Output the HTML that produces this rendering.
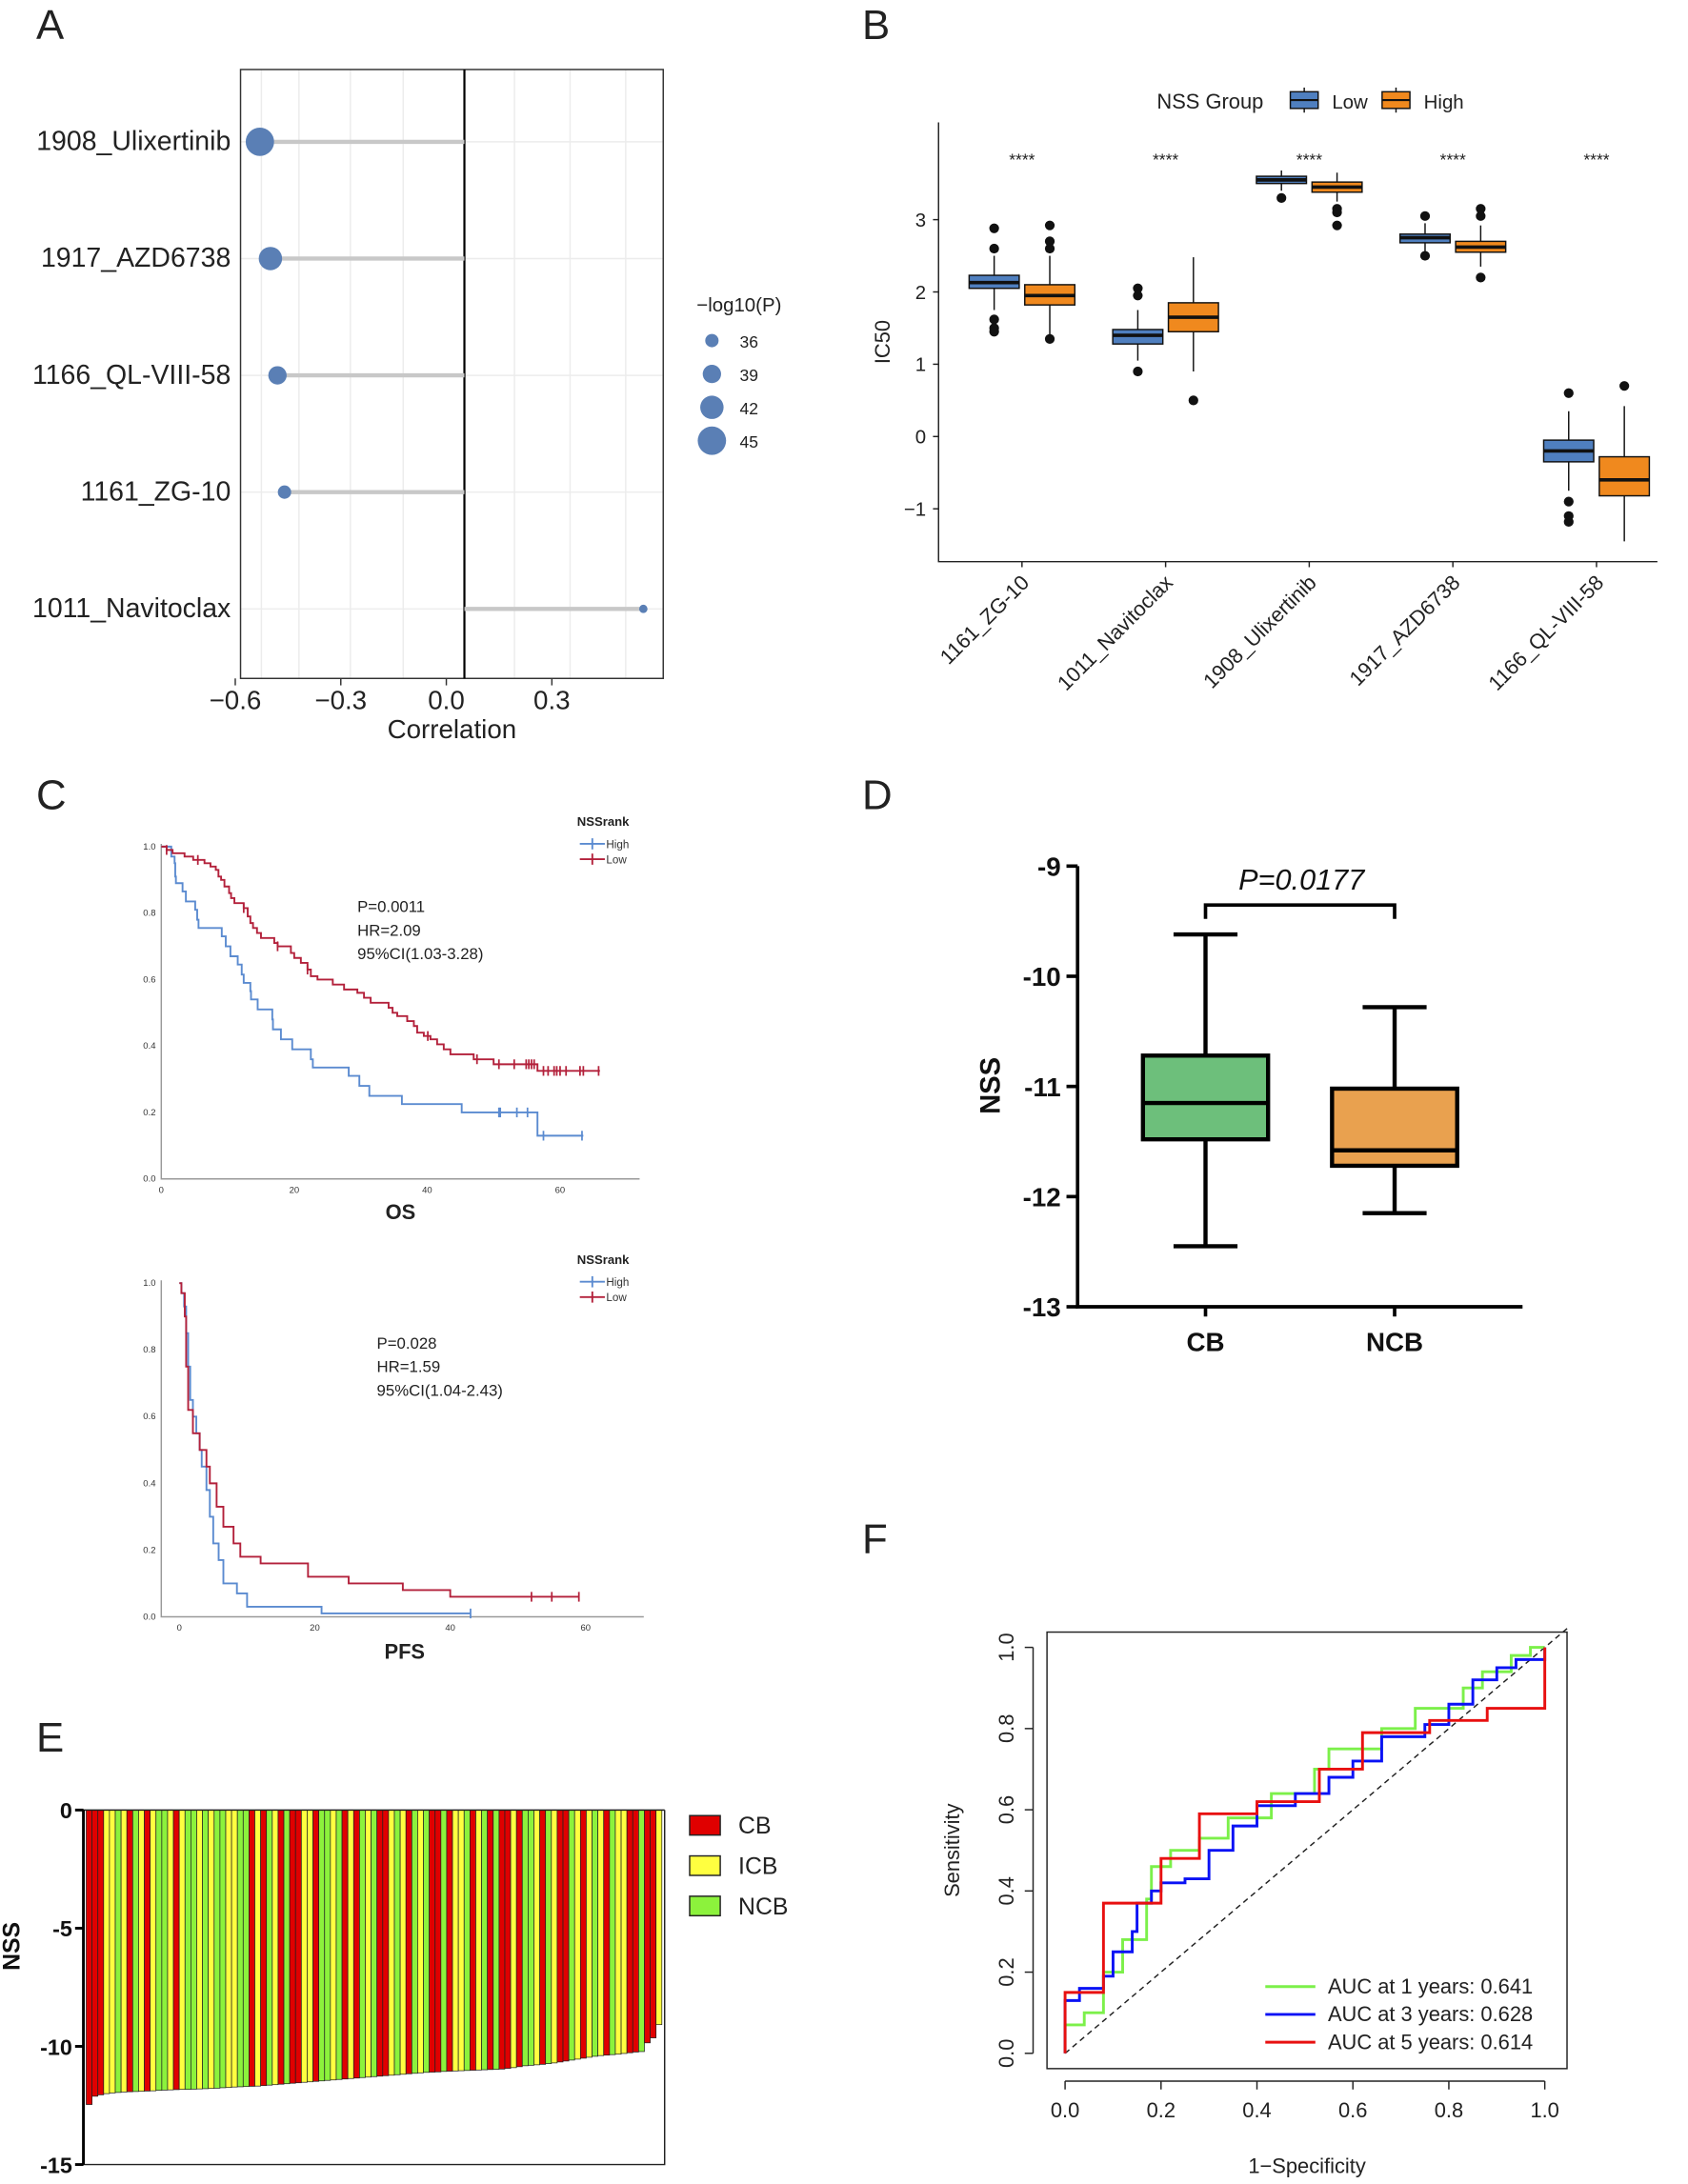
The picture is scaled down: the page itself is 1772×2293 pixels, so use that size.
<!DOCTYPE html>
<html><head><meta charset="utf-8">
<style>
html,body{margin:0;padding:0;background:#fff;}
svg{display:block;font-family:"Liberation Sans",Arial,sans-serif;}
</style></head>
<body>
<svg id="fig" width="1772" height="2293" viewBox="0 0 1214 1571" preserveAspectRatio="none" xmlns="http://www.w3.org/2000/svg">
<rect width="1214" height="1571" fill="#fff"/>
<g font-size="30" fill="#222">
<text x="26" y="28">A</text>
<text x="620" y="28">B</text>
<text x="26" y="582">C</text>
<text x="620" y="582">D</text>
<text x="26" y="1260">E</text>
<text x="620" y="1117">F</text>
</g>
<g id="gA"></g>
<g id="gB"></g>
<g id="gC"></g>
<g id="gD"></g>
<g id="gE"></g>
<g id="gF"></g>
</svg>
<script>
// ---------- Panel A data ----------
const aDrugs=["1908_Ulixertinib","1917_AZD6738","1166_QL-VIII-58","1161_ZG-10","1011_Navitoclax"];
const aCorr=[-0.53,-0.5,-0.48,-0.46,0.56];
const aLogP=[45,42,39,36,33];
const aTicks=[-0.6,-0.3,0.0,0.3];
const aLegend=[36,39,42,45];
// ---------- Panel B data ----------
const bDrugs=["1161_ZG-10","1011_Navitoclax","1908_Ulixertinib","1917_AZD6738","1166_QL-VIII-58"];
const bLow=[[1.75,2.05,2.13,2.23,2.5],[1.05,1.28,1.4,1.48,1.75],[3.4,3.5,3.55,3.6,3.68],[2.55,2.68,2.75,2.8,2.95],[-0.75,-0.35,-0.2,-0.05,0.35]];
const bHigh=[[1.4,1.82,1.95,2.1,2.5],[0.9,1.45,1.65,1.85,2.48],[3.25,3.38,3.45,3.52,3.65],[2.35,2.55,2.62,2.7,2.92],[-1.45,-0.82,-0.6,-0.28,0.42]];
const bLowOut=[[2.88,2.6,1.62,1.5,1.45],[2.05,1.95,0.9],[3.3],[3.05,2.5],[0.6,-0.9,-1.1,-1.18]];
const bHighOut=[[2.92,2.7,2.6,1.35],[0.5],[3.1,3.15,2.92],[3.15,3.05,2.2],[0.7]];
const bTicks=[3,2,1,0,-1];
// ---------- Panel C data ----------
const osHighT=[1.5,2,2.1,2.2,3.2,3.7,5.1,5.4,5.6,9.1,9.7,10.4,11.5,12.1,12.4,13.4,13.5,14.5,16.7,16.8,18,19.7,22.5,22.8,28.2,29.8,31.3,36.2,45.2,56.6];
const osHighS=[0.97,0.95,0.91,0.89,0.865,0.835,0.81,0.78,0.755,0.73,0.70,0.67,0.645,0.615,0.59,0.565,0.54,0.51,0.48,0.45,0.42,0.39,0.36,0.335,0.31,0.28,0.25,0.225,0.2,0.13];
const osHighEnd=63.5;
const osHighCens=[50.8,51,53.5,55.1,57.5,63.3];
const osLowT=[0.8,1.7,3.5,4.8,6.5,7.4,8.2,8.6,9,9.5,10.2,10.5,11,12.4,13,13.4,13.8,14.4,15,17,17.5,19.5,20,21,22,22.5,23.5,25.8,27.5,29.5,30.5,31.5,34.2,34.8,35.5,37,38,38.5,39.5,40.5,41.5,42.5,43.5,47,50,56.6];
const osLowS=[0.99,0.98,0.97,0.96,0.95,0.94,0.93,0.91,0.9,0.88,0.86,0.845,0.83,0.815,0.79,0.77,0.755,0.74,0.725,0.71,0.7,0.68,0.665,0.65,0.63,0.61,0.6,0.585,0.57,0.56,0.545,0.53,0.515,0.5,0.49,0.475,0.46,0.44,0.43,0.42,0.405,0.39,0.375,0.36,0.345,0.325];
const osLowEnd=66;
const osLowCens=[0.8,5.5,12.4,17.5,22,40.1,47.5,50.8,53.1,54.9,55.3,55.7,56.1,57.5,58.2,59.1,59.5,60,60.9,63,63.5,65.8];
const pfsHighT=[0.3,0.7,1,1.3,1.6,2,2.5,3,3.3,4,4.5,5,5.8,6.5,8.5,10,21];
const pfsHighS=[0.97,0.93,0.85,0.75,0.65,0.6,0.55,0.5,0.45,0.38,0.3,0.22,0.17,0.1,0.07,0.03,0.01];
const pfsHighEnd=43;
const pfsHighCens=[43];
const pfsLowT=[0.3,0.8,1,1.3,2,3,4,4.5,5.5,6.5,8,9,12,19,25,33,40];
const pfsLowS=[0.97,0.9,0.75,0.62,0.55,0.5,0.45,0.4,0.33,0.27,0.22,0.18,0.16,0.12,0.1,0.08,0.06];
const pfsLowEnd=59;
const pfsLowCens=[52,55,59];
const kmYTicks=[0,0.2,0.4,0.6,0.8,1.0];
const osXTicks=[0,20,40,60];
const pfsXTicks=[0,20,40,60];
// ---------- Panel D data ----------
const dGroups=["CB","NCB"];
const dStats=[[-12.45,-11.48,-11.15,-10.72,-9.62],[-12.15,-11.72,-11.58,-11.02,-10.28]];
const dTicks=[-9,-10,-11,-12,-13];
// ---------- Panel E data ----------
const eValues=[-12.46,-12.11,-12.05,-12.0,-11.97,-11.95,-11.93,-11.92,-11.91,-11.9,-11.89,-11.88,-11.86,-11.85,-11.84,-11.83,-11.82,-11.82,-11.81,-11.8,-11.79,-11.78,-11.77,-11.75,-11.74,-11.72,-11.71,-11.7,-11.69,-11.68,-11.66,-11.64,-11.62,-11.6,-11.58,-11.56,-11.54,-11.52,-11.5,-11.48,-11.46,-11.44,-11.42,-11.4,-11.38,-11.36,-11.34,-11.32,-11.3,-11.28,-11.26,-11.24,-11.22,-11.2,-11.18,-11.16,-11.14,-11.12,-11.1,-11.09,-11.08,-11.06,-11.05,-11.04,-11.03,-11.02,-11.01,-11.0,-10.99,-10.98,-10.97,-10.96,-10.93,-10.9,-10.86,-10.82,-10.8,-10.78,-10.76,-10.73,-10.7,-10.66,-10.62,-10.58,-10.54,-10.5,-10.46,-10.42,-10.39,-10.37,-10.35,-10.33,-10.3,-10.27,-10.24,-10.22,-9.85,-9.64,-9.08];
const eClass="RRRYYGYRGYRYGGYRYGGYGYGGYYGGRYRGYRGRRYYRGGYGRYRGYGRRYGYRGYGRRGRYYGRYGRGRRYRGGYRGYRRGYRYGYRGYYRRGRRY".split("");
const eTicks=[0,-5,-10,-15];
const eLegend=["CB","ICB","NCB"];
// ---------- Panel F data ----------
const rocTicks=[0,0.2,0.4,0.6,0.8,1.0];
const roc1F=[0,0,0.04,0.04,0.08,0.08,0.12,0.12,0.17,0.17,0.18,0.22,0.22,0.28,0.28,0.34,0.34,0.4,0.43,0.52,0.55,0.66,0.73,0.83,0.87,0.93,0.97,1];
const roc1T=[0,0.07,0.07,0.1,0.1,0.2,0.2,0.28,0.28,0.38,0.46,0.46,0.5,0.5,0.53,0.53,0.58,0.58,0.64,0.7,0.75,0.8,0.85,0.9,0.94,0.98,1,1];
const roc3F=[0,0,0.03,0.08,0.1,0.14,0.15,0.18,0.2,0.25,0.3,0.35,0.4,0.48,0.55,0.6,0.66,0.75,0.8,0.85,0.9,0.94,1,1];
const roc3T=[0,0.13,0.16,0.19,0.25,0.3,0.37,0.4,0.42,0.43,0.5,0.56,0.61,0.64,0.68,0.72,0.78,0.81,0.86,0.92,0.95,0.97,0.98,1];
const roc5F=[0,0,0.08,0.08,0.2,0.2,0.28,0.28,0.4,0.4,0.53,0.53,0.62,0.62,0.76,0.76,0.88,0.88,1,1];
const roc5T=[0,0.15,0.15,0.37,0.37,0.48,0.48,0.59,0.59,0.62,0.62,0.70,0.70,0.79,0.79,0.82,0.82,0.85,0.85,1];
const rocLabels=["AUC at 1 years: 0.641","AUC at 3 years: 0.628","AUC at 5 years: 0.614"];

const NS="http://www.w3.org/2000/svg";
function mk(parent,tag,attrs,text){const e=document.createElementNS(NS,tag);for(const k in attrs)e.setAttribute(k,attrs[k]);if(text!==undefined)e.textContent=text;parent.appendChild(e);return e;}

// ===== Panel A =====
(function(){
const g=document.getElementById('gA');
const L=173,R=477,T=50,B=488;
const xA=v=>321+v*253;
const zeroX=334;
[188,215,252,290,370,410,450].forEach(x=>{const l=mk(g,'line',{x1:x,x2:x,y1:T,y2:B,stroke:'#ececec','stroke-width':1});});
aDrugs.forEach((d,i)=>{const y=102+i*84;const l=mk(g,'line',{x1:L,x2:R,y1:y,y2:y,stroke:'#ececec','stroke-width':1});});
const fr=mk(g,'rect',{x:L,y:T,width:R-L,height:B-T,fill:'none',stroke:'#333','stroke-width':1});

const zl=mk(g,'line',{x1:zeroX,x2:zeroX,y1:T,y2:B,stroke:'#000','stroke-width':1.5});

const rS=p=>3+(p-33)*0.6;
aDrugs.forEach((d,i)=>{
 const y=102+i*84,x=xA(aCorr[i]);
 const s=mk(g,'line',{x1:x,x2:zeroX,y1:y,y2:y,stroke:'#c8c8c8','stroke-width':3});
 
 const c=mk(g,'circle',{cx:x,cy:y,r:rS(aLogP[i]),fill:'#5a7fb5'});
 
 const t=mk(g,'text',{x:166,y:y+6,'text-anchor':'end','font-size':19.5,fill:'#222'},d);
 
});
aTicks.forEach(v=>{const x=xA(v);
 const tk=mk(g,'line',{x1:x,x2:x,y1:B,y2:B+5,stroke:'#333'});
 const t=mk(g,'text',{x:x,y:B+22,'text-anchor':'middle','font-size':19,fill:'#222'},(v<0?'\u2212':'')+Math.abs(v).toFixed(1));
 });
const xt=mk(g,'text',{x:325,y:531,'text-anchor':'middle','font-size':19,fill:'#222'},'Correlation');

const lt=mk(g,'text',{x:501,y:224,'font-size':14,fill:'#222'},'\u2212log10(P)');

aLegend.forEach((p,i)=>{const y=245+i*24;
 const c=mk(g,'circle',{cx:512,cy:y,r:rS(p),fill:'#5a7fb5'});
 const t=mk(g,'text',{x:532,y:y+5,'font-size':12,fill:'#222'},p);});
})();

// ===== Panel B =====
(function(){
const g=document.getElementById('gB');
const L=675,R=1192,T=88,B=404;
const yB=v=>314-52*v;
const ax=mk(g,'path',{d:`M${L},${T} V${B} H${R}`,fill:'none',stroke:'#222','stroke-width':1});

bTicks.forEach(v=>{const y=yB(v);
 const tk=mk(g,'line',{x1:L-4,x2:L,y1:y,y2:y,stroke:'#222'});
 const t=mk(g,'text',{x:L-9,y:y+5,'text-anchor':'end','font-size':14,fill:'#222'},v<0?'\u2212'+Math.abs(v):v);});
const yl=mk(g,'text',{x:0,y:0,'font-size':15,fill:'#222','text-anchor':'middle',transform:'translate(640,246) rotate(-90)'},'IC50');

function box(cx,st,out,col){
 const w=36;
 const wl=mk(g,'line',{x1:cx,x2:cx,y1:yB(st[0]),y2:yB(st[4]),stroke:'#111','stroke-width':1});
 const r=mk(g,'rect',{x:cx-w/2,y:yB(st[3]),width:w,height:yB(st[1])-yB(st[3]),fill:col,stroke:'#111','stroke-width':1});
 const m=mk(g,'line',{x1:cx-w/2,x2:cx+w/2,y1:yB(st[2]),y2:yB(st[2]),stroke:'#111','stroke-width':2.5});
 out.forEach(o=>{const c=mk(g,'circle',{cx:cx,cy:yB(o),r:3.5,fill:'#111'});});
}
bDrugs.forEach((d,i)=>{const cx=735+i*103.3;
 box(cx-20,bLow[i],bLowOut[i],'#4f7fbf');box(cx+20,bHigh[i],bHighOut[i],'#f0891e');
 const tk=mk(g,'line',{x1:cx,x2:cx,y1:B,y2:B+4,stroke:'#222'});
 const s=mk(g,'text',{x:cx,y:119,'text-anchor':'middle','font-size':12,fill:'#222'},'****');
 const t=mk(g,'text',{x:0,y:0,'text-anchor':'end','font-size':15,fill:'#222',transform:`translate(${cx+6},${B+16}) rotate(-45)`},d);});
const lgT=mk(g,'text',{x:832,y:78,'font-size':15,fill:'#222'},'NSS Group');
[['Low','#4f7fbf',928],['High','#f0891e',994]].forEach(([n,c,x])=>{
 const l=mk(g,'line',{x1:x+10,x2:x+10,y1:63,y2:81,stroke:'#111'});
 const r=mk(g,'rect',{x:x,y:66,width:20,height:12,fill:c,stroke:'#111'});
 const m=mk(g,'line',{x1:x,x2:x+20,y1:72,y2:72,stroke:'#111','stroke-width':1.5});
 const t=mk(g,'text',{x:x+30,y:78,'font-size':14,fill:'#222'},n);});
})();

// ===== Panel C =====
function kmPlot(g,o){
 const {L,R,T,B,x0,xs}=o;
 const X=t=>x0+t*xs, Y=s=>B-(B-T)*s;
 const ax=mk(g,'path',{d:`M${L},${T-2} V${B} H${R}`,fill:'none',stroke:'#999','stroke-width':1});
 kmYTicks.forEach(v=>{const t=mk(g,'text',{x:L-4,y:Y(v)+2,'text-anchor':'end','font-size':6.5,fill:'#333'},v.toFixed(1));});
 o.xticks.forEach(v=>{const t=mk(g,'text',{x:X(v),y:B+10,'text-anchor':'middle','font-size':6.5,fill:'#333'},v);});
 function curve(T_,S_,end,cens,col,name){
  let d=`M${X(0)},${Y(1)}`;T_.forEach((t,i)=>{d+=` H${X(t)} V${Y(S_[i])}`;});d+=` H${X(end)}`;
  const p=mk(g,'path',{d:d,fill:'none',stroke:col,'stroke-width':1.3});
  cens.forEach(c=>{let s=1;T_.forEach((t,i)=>{if(t<=c)s=S_[i];});
   const m=mk(g,'line',{x1:X(c),x2:X(c),y1:Y(s)-3.5,y2:Y(s)+3.5,stroke:col,'stroke-width':1.2});});
 }
 curve(o.hT,o.hS,o.hE,o.hC,'#5b8bd0','km-high-curve');
 curve(o.lT,o.lS,o.lE,o.lC,'#b3213b','km-low-curve');
 const lt=mk(g,'text',{x:o.lgx,y:o.lgy,'font-size':9,'font-weight':'bold',fill:'#222'},'NSSrank');
 [['High','#5b8bd0'],['Low','#b3213b']].forEach(([n,c],i)=>{const y=o.lgy+13+i*11;
  const l=mk(g,'line',{x1:o.lgx+2,x2:o.lgx+20,y1:y,y2:y,stroke:c,'stroke-width':1.3});
  const v=mk(g,'line',{x1:o.lgx+11,x2:o.lgx+11,y1:y-4,y2:y+4,stroke:c,'stroke-width':1.3});
  const t=mk(g,'text',{x:o.lgx+21,y:y+3,'font-size':8,fill:'#333'},n);});
 o.stats.forEach((s,i)=>{const t=mk(g,'text',{x:o.sx,y:o.sy+i*17,'font-size':11.5,fill:'#222'},s);});
 const xt=mk(g,'text',{x:o.tx,y:o.ty,'text-anchor':'middle','font-size':15,'font-weight':'bold',fill:'#222'},o.title);
}
(function(){
const g=document.getElementById('gC');
const g1=mk(g,'g',{});
kmPlot(g1,{L:116,R:460,T:609,B:848,x0:116,xs:4.78,xticks:osXTicks,hT:osHighT,hS:osHighS,hE:osHighEnd,hC:osHighCens,lT:osLowT,lS:osLowS,lE:osLowEnd,lC:osLowCens,lgx:415,lgy:594,stats:['P=0.0011','HR=2.09','95%CI(1.03-3.28)'],sx:257,sy:656,title:'OS',tx:288,ty:877});
const g2=mk(g,'g',{});
kmPlot(g2,{L:116,R:463,T:923,B:1163,x0:129,xs:4.87,xticks:pfsXTicks,hT:pfsHighT,hS:pfsHighS,hE:pfsHighEnd,hC:pfsHighCens,lT:pfsLowT,lS:pfsLowS,lE:pfsLowEnd,lC:pfsLowCens,lgx:415,lgy:909,stats:['P=0.028','HR=1.59','95%CI(1.04-2.43)'],sx:271,sy:970,title:'PFS',tx:291,ty:1193});
})();

// ===== Panel D =====
(function(){
const g=document.getElementById('gD');
const L=775,R=1095,B=940;
const yD=v=>623+(-9-v)*79.25;
const ax=mk(g,'path',{d:`M${L},${yD(-9)} V${B} H${R}`,fill:'none',stroke:'#000','stroke-width':2.5});
dTicks.forEach(v=>{const y=yD(v);
 const tk=mk(g,'line',{x1:L-8,x2:L,y1:y,y2:y,stroke:'#000','stroke-width':2.5});
 const t=mk(g,'text',{x:L-12,y:y+7,'text-anchor':'end','font-size':19,'font-weight':'bold',fill:'#111'},v);});
const yl=mk(g,'text',{x:0,y:0,'text-anchor':'middle','font-size':20,'font-weight':'bold',fill:'#111',transform:'translate(719,781) rotate(-90)'},'NSS');
const cols=['#6dbf7b','#e9a14f'];
dGroups.forEach((n,i)=>{const cx=867+i*136,w=90,st=dStats[i];
 const wl=mk(g,'line',{x1:cx,x2:cx,y1:yD(st[0]),y2:yD(st[4]),stroke:'#000','stroke-width':3});
 [st[0],st[4]].forEach(v=>{const c=mk(g,'line',{x1:cx-23,x2:cx+23,y1:yD(v),y2:yD(v),stroke:'#000','stroke-width':3});});
 const r=mk(g,'rect',{x:cx-w/2,y:yD(st[3]),width:w,height:yD(st[1])-yD(st[3]),fill:cols[i],stroke:'#000','stroke-width':3});
 const m=mk(g,'line',{x1:cx-w/2,x2:cx+w/2,y1:yD(st[2]),y2:yD(st[2]),stroke:'#000','stroke-width':3});
 const tk=mk(g,'line',{x1:cx,x2:cx,y1:B,y2:B+7,stroke:'#000','stroke-width':2.5});
 const t=mk(g,'text',{x:cx,y:972,'text-anchor':'middle','font-size':19,'font-weight':'bold',fill:'#111'},n);});
const br=mk(g,'path',{d:'M867,661 V651 H1003 V661',fill:'none',stroke:'#000','stroke-width':2.5});
const pt=mk(g,'text',{x:936,y:640,'text-anchor':'middle','font-size':21,'font-style':'italic',fill:'#111'},'P=0.0177');
})();

// ===== Panel E =====
(function(){
const g=document.getElementById('gE');
const L=60,R=478,T=1302;
const yE=v=>T-v*17;
const colMap={R:'#e00000',Y:'#ffff40',G:'#8cf23c'};
const bw=(R-L-4)/eValues.length;
eValues.forEach((v,i)=>{const r=mk(g,'rect',{x:L+2+i*bw,y:T,width:bw,height:yE(v)-T,fill:colMap[eClass[i]||'Y'],stroke:'#222','stroke-width':0.5});
 });
const ax=mk(g,'path',{d:`M${R},${T} H${L} V${yE(-15)} H${R} V${T}`,fill:'none',stroke:'#222','stroke-width':1});
const ax2=mk(g,'line',{x1:L,x2:L,y1:T,y2:yE(-15),stroke:'#000','stroke-width':2});
eTicks.forEach(v=>{const y=yE(v);
 const tk=mk(g,'line',{x1:L-6,x2:L,y1:y,y2:y,stroke:'#000','stroke-width':2});
 const t=mk(g,'text',{x:L-8,y:y+6,'text-anchor':'end','font-size':16,'font-weight':'bold',fill:'#111'},v);});
const yl=mk(g,'text',{x:0,y:0,'text-anchor':'middle','font-size':17,'font-weight':'bold',fill:'#111',transform:'translate(14,1400) rotate(-90)'},'NSS');
eLegend.forEach((n,i)=>{const y=1306+i*29;
 const r=mk(g,'rect',{x:496,y:y,width:22,height:14,fill:colMap['RYG'[i]],stroke:'#222','stroke-width':1});
 const t=mk(g,'text',{x:531,y:y+13,'font-size':17,fill:'#222'},n);});
})();

// ===== Panel F =====
(function(){
const g=document.getElementById('gF');
const X=v=>766+v*345, Y=v=>1477-v*292;
const fr=mk(g,'rect',{x:753,y:1174,width:374,height:314,fill:'none',stroke:'#222','stroke-width':1});
const xa=mk(g,'line',{x1:X(0),x2:X(1),y1:1497,y2:1497,stroke:'#222'});
const ya=mk(g,'line',{x1:743,x2:743,y1:Y(0),y2:Y(1),stroke:'#222'});
rocTicks.forEach(v=>{
 const tx=mk(g,'line',{x1:X(v),x2:X(v),y1:1497,y2:1503,stroke:'#222'});
 const t=mk(g,'text',{x:X(v),y:1523,'text-anchor':'middle','font-size':15,fill:'#222'},v.toFixed(1));
 const ty=mk(g,'line',{x1:737,x2:743,y1:Y(v),y2:Y(v),stroke:'#222'});
 const t2=mk(g,'text',{x:0,y:0,'text-anchor':'middle','font-size':15,fill:'#222',transform:`translate(729,${Y(v)}) rotate(-90)`},v.toFixed(1));});
const dg=mk(g,'line',{x1:X(0),y1:Y(0),x2:X(1.05),y2:Y(1.05),stroke:'#222','stroke-dasharray':'4,3'});
function roc(F,T_,col,name){let d=`M${X(F[0])},${Y(T_[0])}`;for(let i=1;i<F.length;i++){d+=` H${X(F[i])} V${Y(T_[i])}`;}
 const p=mk(g,'path',{d:d,fill:'none',stroke:col,'stroke-width':2});}
roc(roc1F,roc1T,'#7cf04a','f-roc-1yr');roc(roc3F,roc3T,'#0a12f5','f-roc-3yr');roc(roc5F,roc5T,'#e81010','f-roc-5yr');
['#7cf04a','#0a12f5','#e81010'].forEach((c,i)=>{const y=1429+i*20;
 const l=mk(g,'line',{x1:910,x2:946,y1:y,y2:y,stroke:c,'stroke-width':2});
 const t=mk(g,'text',{x:955,y:y+5,'font-size':15,fill:'#222'},rocLabels[i]);});
const yl=mk(g,'text',{x:0,y:0,'text-anchor':'middle','font-size':15,fill:'#222',transform:'translate(690,1331) rotate(-90)'},'Sensitivity');
const xl=mk(g,'text',{x:940,y:1563,'text-anchor':'middle','font-size':15,fill:'#222'},'1\u2212Specificity');
})();
</script>
</body></html>
